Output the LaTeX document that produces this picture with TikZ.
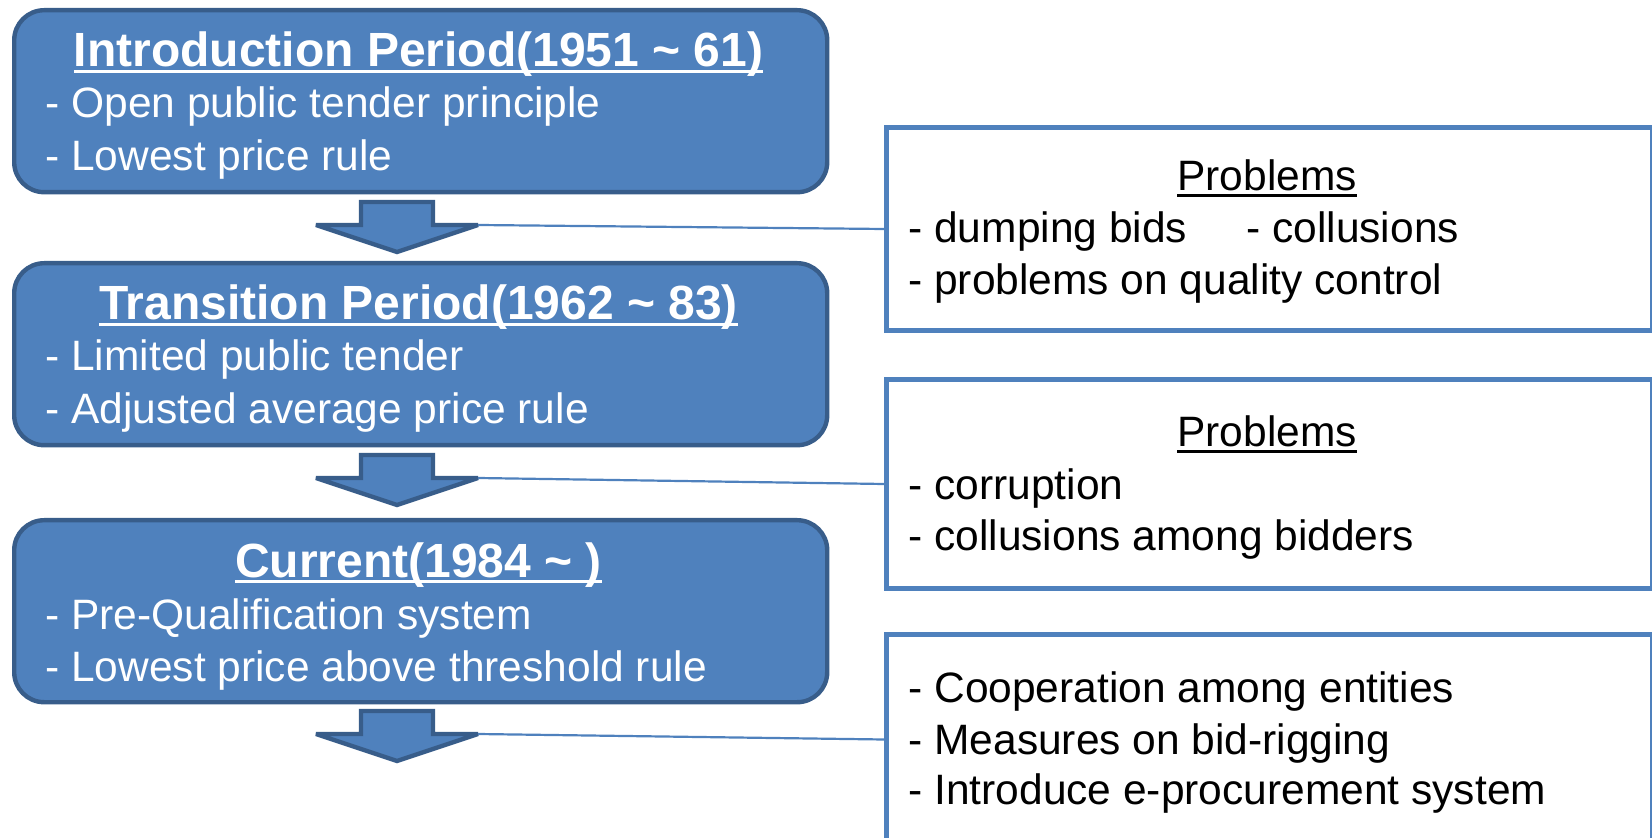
\documentclass[tikz,border=0pt]{standalone}
\usepackage{fontspec}
\setmainfont{Liberation Sans}
\newcommand{\myuline}[1]{\setbox0\hbox{#1}\rlap{\rule[-3.1pt]{\wd0}{1.5pt}}\box0}
\definecolor{bfill}{RGB}{79,129,189}
\definecolor{bdark}{RGB}{56,93,138}
\tikzset{
  period/.style={draw=bdark, fill=bfill, line width=2.2pt, rounded corners=15pt,
    anchor=north west, minimum width=406.5pt, minimum height=91pt, inner sep=0pt},
  probbox/.style={draw=bfill, fill=white, line width=2.5pt, anchor=north west,
    minimum width=383pt, inner sep=0pt},
  ttl/.style={anchor=base, inner sep=0pt, text=white, font=\fontsize{24}{28}\selectfont\bfseries},
  bodyw/.style={anchor=base west, inner sep=0pt, text=white, font=\fontsize{21.25}{26}\selectfont},
  bodyk/.style={anchor=base west, inner sep=0pt, text=black, font=\fontsize{21.25}{26}\selectfont},
  headk/.style={anchor=base, inner sep=0pt, text=black, font=\fontsize{21.25}{26}\selectfont},
  downarrow/.style={draw=bdark, fill=bfill, line width=2.2pt, line join=miter, miter limit=3},
  link/.style={draw=bfill, line width=1.1pt}
}
\begin{document}
\begin{tikzpicture}[x=0.5pt,y=-0.5pt]
\useasboundingbox (0,0) rectangle (1652,838);

% left period boxes
\node[period] (b1) at (12,8) {};
\node[period] (b2) at (12,261) {};
\node[period] (b3) at (12,518) {};

\node[ttl] (t1) at (418.5,67) {\myuline{Introduction Period(1951 \textasciitilde{} 61)}};
\node[bodyw] (l11) at (45,118) {- Open public tender principle};
\node[bodyw] (l12) at (45,171) {- Lowest price rule};

\node[ttl] (t2) at (418.5,320) {\myuline{Transition Period(1962 \textasciitilde{} 83)}};
\node[bodyw] (l21) at (45,371) {- Limited public tender};
\node[bodyw] (l22) at (45,424) {- Adjusted average price rule};

\node[ttl] (t3) at (418.5,577) {\myuline{Current(1984 \textasciitilde{} )}};
\node[bodyw] (l31) at (45,629) {- Pre-Qualification system};
\node[bodyw] (l32) at (45,681) {- Lowest price above threshold rule};

% down arrows
\foreach \T/\n in {202/1,455/2,711/3}{
  \draw[downarrow] (361,\T) -- (433,\T) -- (433,\T+23) -- (478,\T+23) -- (397,\T+50)
     -- (316,\T+23) -- (361,\T+23) -- cycle;
  \coordinate (a\n w) at (478,\T+23);
}

% right boxes
\node[probbox, minimum height=101.5pt] (pA) at (884,125) {};
\node[probbox, minimum height=104.5pt] (pB) at (884,377) {};
\node[probbox, minimum height=105pt] (pC) at (884,632) {};

\node[headk] (hA) at (1267,191) {\myuline{Problems}};
\node[bodyk] (a11) at (908,243) {- dumping bids};
\node[bodyk] (a12) at (1246,243) {- collusions};
\node[bodyk] (a13) at (908,295) {- problems on quality control};

\node[headk] (hB) at (1267,447) {\myuline{Problems}};
\node[bodyk] (b11) at (908,500) {- corruption};
\node[bodyk] (b12) at (908,551) {- collusions among bidders};

\node[bodyk] (c11) at (908,702) {- Cooperation among entities};
\node[bodyk] (c12) at (908,754) {- Measures on bid-rigging};
\node[bodyk] (c13) at (908,804) {- Introduce e-procurement system};

% connectors
\draw[link] (a1w) -- (pA.west);
\draw[link] (a2w) -- (pB.west);
\draw[link] (a3w) -- (pC.west);
\end{tikzpicture}
\end{document}
